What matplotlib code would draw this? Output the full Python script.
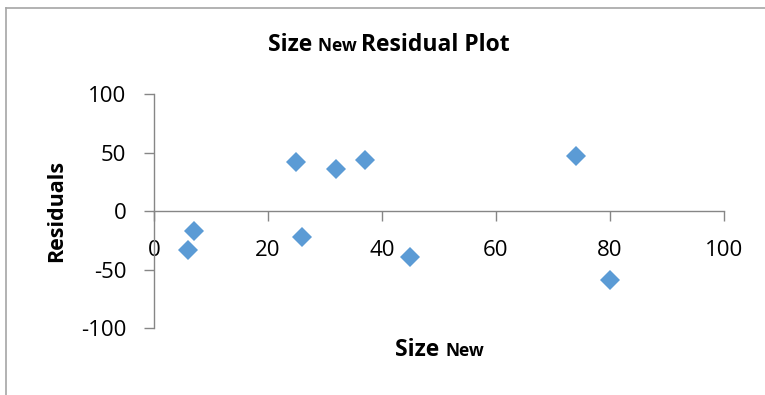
import matplotlib
matplotlib.use("Agg")
import matplotlib.pyplot as plt
from matplotlib.lines import Line2D
from matplotlib.offsetbox import TextArea, HPacker, AnnotationBbox

size_new = [6, 7, 25, 26, 32, 37, 45, 74, 80]
residuals = [-33.5, -17, 41.5, -22, 35.5, 44, -39, 47, -59]

x_ticks = [0, 20, 40, 60, 80, 100]
y_ticks = [-100, -50, 0, 50, 100]

plt.rcParams["font.family"] = ["Open Sans", "DejaVu Sans"]
plt.rcParams["axes.unicode_minus"] = False
axis_gray = "#868686"
marker_blue = "#5B9BD5"

fig = plt.figure(figsize=(7.65, 3.95), dpi=100)
ax = fig.add_axes([0.2013, 0.1696, 0.7451, 0.5924])

ax.plot(size_new, residuals, linestyle="none", marker="D", markersize=10.2,
        color=marker_blue, markeredgewidth=0)

ax.set_xlim(0, 100)
ax.set_ylim(-100, 100)
ax.set_xticks(x_ticks)
ax.set_yticks(y_ticks)

# Eje x cruzando en cero, como en Excel
ax.spines["bottom"].set_position(("data", 0))
ax.spines["top"].set_visible(False)
ax.spines["right"].set_visible(False)
for side in ["left", "bottom"]:
    ax.spines[side].set_color(axis_gray)
    ax.spines[side].set_linewidth(1.0)

ax.tick_params(axis="x", direction="out", length=7, width=1, color=axis_gray,
               labelsize=16, pad=14)
ax.tick_params(axis="y", direction="out", length=7, width=1, color=axis_gray,
               labelsize=16, pad=13)

# Título con "New" más pequeño
def mixed_label(parts):
    boxes = [TextArea(txt, textprops=dict(fontsize=fs, fontweight="bold", color="black"))
             for txt, fs in parts]
    return HPacker(children=boxes, align="baseline", pad=0, sep=0)

title_box = mixed_label([("Size ", 16.5), ("New ", 12.5), ("Residual Plot", 16.5)])
fig.add_artist(AnnotationBbox(title_box, (0.508, 0.885), xycoords="figure fraction",
                              frameon=False, box_alignment=(0.5, 0.5)))

xlabel_box = mixed_label([("Size ", 16.5), ("New", 12.5)])
fig.add_artist(AnnotationBbox(xlabel_box, (0.575, 0.113), xycoords="figure fraction",
                              frameon=False, box_alignment=(0.5, 0.5)))

fig.text(0.0745, 0.466, "Residuals", rotation=90, fontsize=15.5, fontweight="bold",
         ha="center", va="center")

# Borde del área del gráfico (solo arriba e izquierda visibles)
fig.add_artist(Line2D([6 / 765, 1.0], [1 - 8 / 395, 1 - 8 / 395],
                      transform=fig.transFigure, color="#A6A6A6", linewidth=1.2))
fig.add_artist(Line2D([6 / 765, 6 / 765], [0.0, 1 - 8 / 395],
                      transform=fig.transFigure, color="#A6A6A6", linewidth=1.2))

fig.savefig("out.png", dpi=100)
